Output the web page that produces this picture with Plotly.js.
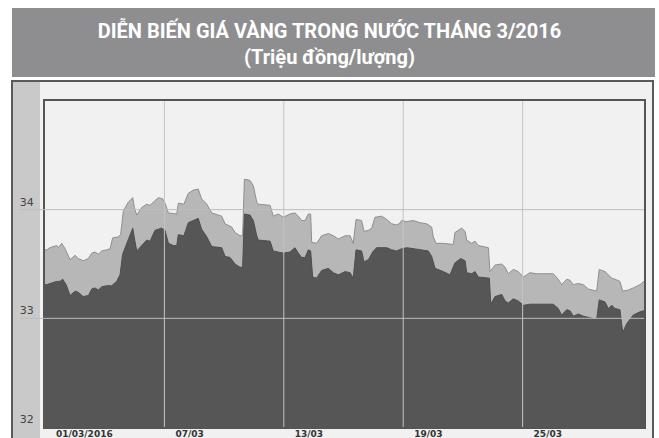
<!DOCTYPE html>
<html>
<head>
<meta charset="utf-8">
<script src="https://cdn.plot.ly/plotly-3.0.1.min.js"></script>
<style>
html,body{margin:0;padding:0;background:#fff;}
#chart{width:659px;height:438px;}
</style>
</head>
<body>
<div id="chart"></div>
<script>
// Day of March 2016 (fractional) and prices, million VND per tael
const daySell = [1.00,1.085,1.25,1.42,1.59,1.67,1.84,2.01,2.26,2.51,2.67,2.92,3.18,3.35,3.51,3.68,3.85,4.10,4.27,4.40,4.68,4.80,4.94,5.19,5.41,5.49,5.61,5.86,6.11,6.28,6.53,6.69,6.91,7.03,7.20,7.45,7.62,7.70,7.98,8.20,8.45,8.70,8.87,9.13,9.38,9.88,10.05,10.38,10.55,10.80,10.93,11.02,11.30,11.47,11.64,11.72,12.31,12.47,12.72,12.97,13.31,13.56,13.73,13.90,14.07,14.23,14.35,14.40,14.65,14.90,15.24,15.49,15.74,16.08,16.33,16.49,16.63,16.91,17.03,17.25,17.42,17.58,17.92,18.17,18.42,18.67,18.80,18.92,19.18,19.51,19.84,20.18,20.43,20.51,20.65,21.02,21.52,21.60,21.94,22.11,22.19,22.44,22.61,22.77,23.20,23.28,23.36,23.61,23.95,24.12,24.28,24.53,24.78,25.04,25.37,25.71,26.54,26.79,26.96,27.22,27.38,27.55,27.80,28.05,28.30,28.72,28.85,29.14,29.31,29.48,29.64,29.89,30.03,30.31,30.56,30.90,31.10];
const sell = [33.63,33.63,33.65,33.66,33.67,33.65,33.69,33.64,33.54,33.58,33.55,33.53,33.55,33.60,33.61,33.59,33.62,33.63,33.64,33.74,33.75,33.77,33.99,34.07,34.11,34.02,33.95,34.02,34.05,34.04,34.08,34.11,34.10,34.06,33.97,33.96,33.96,34.06,34.05,34.15,34.18,34.19,34.10,34.05,33.97,33.94,33.87,33.84,33.79,33.76,33.76,34.28,34.27,34.22,34.07,34.05,34.04,33.94,33.96,33.93,33.96,33.97,33.94,33.90,33.90,33.96,33.96,33.70,33.69,33.76,33.78,33.76,33.73,33.76,33.76,33.69,33.91,33.90,33.80,33.81,33.83,33.93,33.94,33.91,33.87,33.86,33.87,33.90,33.89,33.90,33.88,33.87,33.84,33.75,33.69,33.69,33.68,33.79,33.83,33.80,33.72,33.69,33.71,33.67,33.65,33.65,33.43,33.49,33.50,33.47,33.41,33.45,33.43,33.38,33.42,33.41,33.41,33.36,33.31,33.36,33.35,33.31,33.32,33.31,33.27,33.25,33.45,33.43,33.40,33.37,33.36,33.34,33.25,33.26,33.28,33.31,33.34];
const dayBuy = [1.00,1.085,1.42,1.59,1.75,1.89,2.06,2.26,2.51,2.67,2.92,3.18,3.35,3.51,3.68,3.85,4.10,4.35,4.60,4.77,4.90,5.14,5.41,5.49,5.61,5.86,6.11,6.28,6.53,6.86,7.03,7.20,7.45,7.62,7.70,7.98,8.20,8.45,8.70,8.87,9.13,9.38,9.88,10.05,10.30,10.55,10.80,10.93,11.02,11.30,11.47,11.64,11.72,12.31,12.47,12.72,12.97,13.31,13.56,13.73,13.90,14.07,14.23,14.35,14.45,14.65,14.90,15.24,15.49,15.74,16.08,16.33,16.49,16.63,16.91,17.03,17.25,17.50,17.67,18.17,18.42,18.67,18.92,19.18,19.84,20.26,20.43,20.60,21.02,21.35,21.60,21.89,22.11,22.19,22.44,22.61,22.77,23.20,23.33,23.40,23.61,23.95,24.12,24.28,24.53,24.78,25.04,25.37,25.71,26.54,26.79,26.96,27.22,27.38,27.55,27.80,28.05,28.30,28.72,28.85,29.14,29.31,29.48,29.64,29.89,30.03,30.23,30.56,30.90,31.10];
const buy = [33.31,33.31,33.33,33.34,33.34,33.36,33.31,33.21,33.25,33.24,33.20,33.21,33.27,33.28,33.26,33.29,33.30,33.30,33.34,33.40,33.59,33.71,33.83,33.74,33.62,33.67,33.72,33.71,33.81,33.83,33.81,33.69,33.67,33.67,33.77,33.76,33.88,33.90,33.92,33.82,33.75,33.66,33.65,33.57,33.56,33.50,33.47,33.47,33.96,33.95,33.90,33.76,33.72,33.71,33.62,33.61,33.60,33.61,33.65,33.60,33.56,33.56,33.63,33.62,33.38,33.37,33.44,33.46,33.42,33.40,33.43,33.42,33.37,33.63,33.62,33.52,33.54,33.62,33.65,33.65,33.63,33.62,33.64,33.65,33.63,33.62,33.57,33.46,33.43,33.40,33.51,33.55,33.53,33.42,33.41,33.43,33.38,33.37,33.37,33.13,33.20,33.22,33.16,33.14,33.18,33.16,33.12,33.13,33.13,33.13,33.09,33.03,33.08,33.07,33.02,33.04,33.02,33.01,32.99,33.17,33.15,33.09,33.12,33.09,33.08,32.87,32.95,33.03,33.06,33.07];
const xTickVals = [1,7,13,19,25];
const xTickText = ['01/03/2016','07/03','13/03','19/03','25/03'];
const yTickVals = [32,33,34];
const titleText = 'DIỄN BIẾN GIÁ VÀNG TRONG NƯỚC THÁNG 3/2016<br>(Triệu đồng/lượng)';

const traces = [
  {x: daySell, y: sell, type: 'scatter', mode: 'lines', fill: 'tozeroy',
   fillcolor: '#b7b7b7', line: {color: '#8f8f8f', width: 1}, hoverinfo: 'skip'},
  {x: dayBuy, y: buy, type: 'scatter', mode: 'lines', fill: 'tozeroy',
   fillcolor: '#565656', line: {color: '#4e4e4e', width: 1}, hoverinfo: 'skip'}
];

const shapes = [
  {type: 'rect', xref: 'paper', yref: 'paper', x0: -0.0551, x1: 1.0184, y0: 1.0736, y1: 1.285,
   fillcolor: '#8e8e90', line: {width: 0}, layer: 'below'},
  {type: 'rect', xref: 'paper', yref: 'paper', x0: -0.0551, x1: 1.0150, y0: -0.05, y1: 1.0613,
   fillcolor: '#f1f1f1', line: {width: 0}, layer: 'below'},
  {type: 'rect', xref: 'paper', yref: 'paper', x0: -0.0551, x1: -0.0084, y0: -0.05, y1: 1.0613,
   fillcolor: '#c9c9c9', line: {width: 0}, layer: 'below'},
  {type: 'rect', xref: 'paper', yref: 'paper', x0: -0.0551, x1: 1.0150, y0: -0.05, y1: 1.0613,
   fillcolor: 'rgba(0,0,0,0)', line: {width: 2, color: '#5a5a5a'}, layer: 'below'}
];
xTickVals.slice(1).forEach(v => shapes.push({type: 'line', xref: 'x', yref: 'paper', x0: v, x1: v, y0: 0, y1: 1,
  line: {color: '#c4c4c4', width: 1}, layer: 'above'}));
yTickVals.slice(1).forEach(v => shapes.push({type: 'line', xref: 'paper', yref: 'y', x0: -0.0417, x1: 1, y0: v, y1: v,
  line: {color: '#bdbdbd', width: 1}, layer: 'above'}));

const layout = {
  width: 659, height: 438,
  margin: {l: 45, r: 15, t: 101, b: 11, pad: 0},
  paper_bgcolor: '#ffffff',
  plot_bgcolor: '#f4f4f4',
  showlegend: false,
  title: {text: titleText, x: 0.5, xanchor: 'center', xref: 'container', y: 0.914, yref: 'container', yanchor: 'middle',
    font: {family: 'Roboto, Arial, sans-serif', size: 20, color: '#ffffff', weight: 700}},
  xaxis: {range: [1, 31.1], tickvals: xTickVals, ticktext: xTickText, showgrid: false, zeroline: false,
    ticks: '', ticklabelposition: 'outside right', ticklabelshift: 10, ticklabelstandoff: -3,
    tickfont: {family: 'DejaVu Sans, sans-serif', size: 9, color: '#333', weight: 'bold'},
    showline: true, mirror: true, linecolor: '#555', linewidth: 2, fixedrange: true},
  yaxis: {range: [32, 35], tickvals: yTickVals, showgrid: false, zeroline: false, ticks: '',
    ticklabelshift: -8, ticklabelstandoff: 7,
    tickfont: {family: 'DejaVu Sans, sans-serif', size: 11, color: '#444'},
    showline: true, mirror: true, linecolor: '#555', linewidth: 2, fixedrange: true},
  shapes: shapes
};

Plotly.newPlot('chart', traces, layout, {staticPlot: true, displayModeBar: false});
</script>
</body>
</html>
